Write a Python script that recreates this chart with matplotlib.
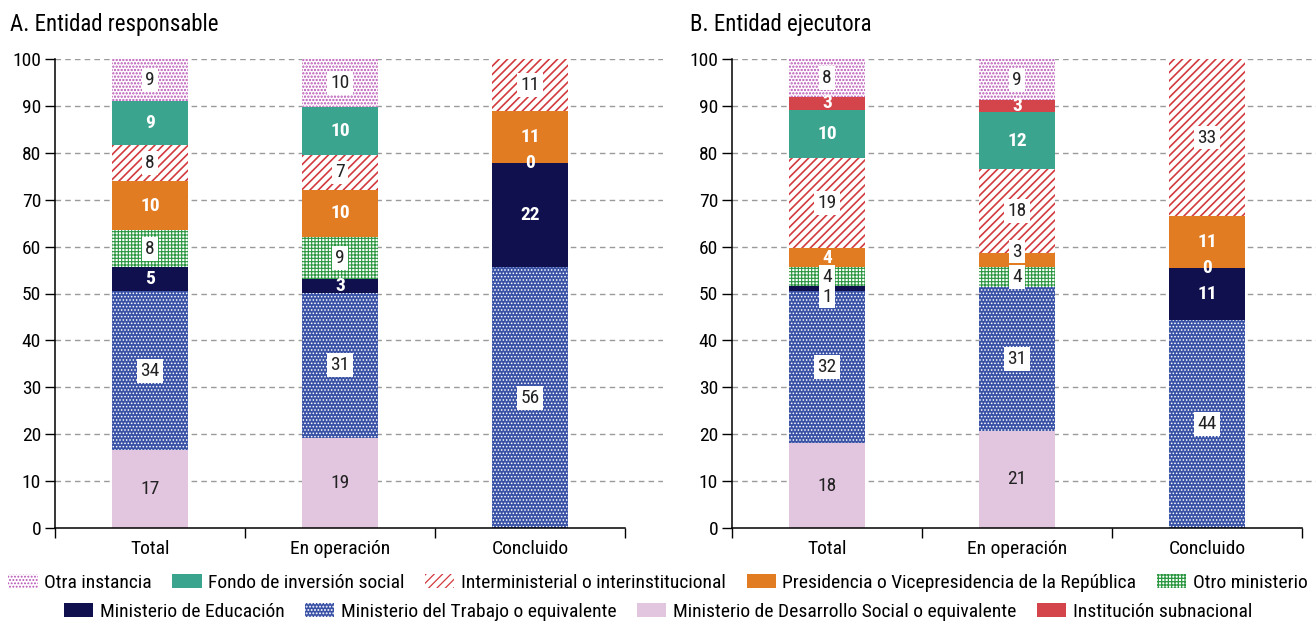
import numpy as np
import matplotlib
matplotlib.use('Agg')
from matplotlib import pyplot as plt
from matplotlib.patches import Patch

plt.rcParams['font.family'] = ['Roboto Condensed', 'Liberation Sans Narrow', 'Roboto', 'DejaVu Sans']
plt.rcParams['hatch.linewidth'] = 0.9

nan = np.nan
categories = ['Total', 'En operación', 'Concluido']

series = ['Ministerio de Desarrollo Social o equivalente', 'Ministerio del Trabajo o equivalente',
          'Ministerio de Educación', 'Otro ministerio', 'Presidencia o Vicepresidencia de la República',
          'Interministerial o interinstitucional', 'Fondo de inversión social', 'Institución subnacional',
          'Otra instancia']

# panel A: entidad responsable (stack order bottom -> top, as in series)
desarrollo_a = [16.6, 19.2, nan]
trabajo_a = [33.9, 31.0, 55.6]
educacion_a = [5.1, 2.9, 22.2]
otro_min_a = [7.9, 9.0, 0]
presidencia_a = [10.4, 10.0, 11.1]
inter_a = [7.7, 7.4, 11.1]
fondo_a = [9.4, 10.3, nan]
subnac_a = [nan, nan, nan]
otra_a = [9.0, 10.2, nan]

# panel B: entidad ejecutora
desarrollo_b = [18.1, 20.7, nan]
trabajo_b = [32.4, 30.6, 44.4]
educacion_b = [1.1, nan, 11.1]
otro_min_b = [4.0, 4.4, 0]
presidencia_b = [4.0, 2.9, 11.1]
inter_b = [19.3, 17.9, 33.3]
fondo_b = [10.3, 12.1, nan]
subnac_b = [2.7, 2.6, nan]
otra_b = [8.1, 8.8, nan]

panel_a = [desarrollo_a, trabajo_a, educacion_a, otro_min_a, presidencia_a,
           inter_a, fondo_a, subnac_a, otra_a]
panel_b = [desarrollo_b, trabajo_b, educacion_b, otro_min_b, presidencia_b,
           inter_b, fondo_b, subnac_b, otra_b]

# style per series: facecolor, hatch colour, hatch, hatch linewidth, label style
styles = {
    'Ministerio de Desarrollo Social o equivalente': ('#e2c6df', None, None, 0, 'plain'),
    'Ministerio del Trabajo o equivalente': ('#3a52a6', 'white', '.....', 0.7, 'box'),
    'Ministerio de Educación': ('#10104f', None, None, 0, 'bold'),
    'Otro ministerio': ('white', '#2a9640', '+++++', 0.8, 'box'),
    'Presidencia o Vicepresidencia de la República': ('#e27c22', None, None, 0, 'bold'),
    'Interministerial o interinstitucional': ('white', '#d23a3e', '////', 1.2, 'box'),
    'Fondo de inversión social': ('#3ba48e', None, None, 0, 'bold'),
    'Institución subnacional': ('#d4444b', None, None, 0, 'bold'),
    'Otra instancia': ('white', '#b64fb3', '.....', 1.1, 'box'),
}
# thin solid segments whose label gets a white box, with a small vertical nudge
boxed_thin = {(1, 'Ministerio de Educación', 0): -1.7,
              (1, 'Presidencia o Vicepresidencia de la República', 1): 1.8}

fig = plt.figure(figsize=(13.16, 6.24), dpi=100)
ax_a = fig.add_axes([55 / 1316, 96 / 624, 608 / 1316, 469 / 624])
ax_b = fig.add_axes([732 / 1316, 96 / 624, 608 / 1316, 469 / 624])

x = np.arange(len(categories))
fs = 14

for p, (ax, data) in enumerate([(ax_a, panel_a), (ax_b, panel_b)]):
    bottom = np.zeros(len(categories))
    for name, vals in zip(series, data):
        vals = np.array(vals, dtype=float)
        h = np.nan_to_num(vals)
        face, hcol, hatch, hlw, lstyle = styles[name]
        if hatch:
            with plt.rc_context({'hatch.linewidth': hlw}):
                ax.bar(x, h, 0.4, bottom=bottom, color=face, edgecolor=hcol, hatch=hatch,
                       linewidth=0, zorder=2)
        else:
            ax.bar(x, h, 0.4, bottom=bottom, color=face, linewidth=0, zorder=2)
        for i, v in enumerate(vals):
            if np.isnan(v):
                continue
            y = bottom[i] + h[i] / 2 + boxed_thin.get((p, name, i), 0)
            txt = f'{v:.0f}'
            if v == 0 or (lstyle == 'bold' and (p, name, i) not in boxed_thin):
                ax.text(x[i], y, txt, ha='center', va='center', color='white',
                        fontweight='bold', fontsize=fs, zorder=4)
            elif lstyle == 'plain':
                ax.text(x[i], y, txt, ha='center', va='center', color='#222222', fontsize=fs, zorder=4)
            else:
                ax.text(x[i], y, txt, ha='center', va='center', color='#222222', fontsize=fs, zorder=4,
                        bbox=dict(boxstyle='square,pad=0.15', fc='white', ec='none'))
        bottom += h

    ax.set_xlim(-0.5, 2.7)
    ax.set_ylim(0, 100)
    ax.set_yticks(np.arange(0, 101, 10))
    ax.tick_params(axis='y', direction='out', length=7, width=1, labelsize=fs, pad=3)
    ax.yaxis.grid(True, color='#9a9a9a', linestyle=(0, (4, 3)), linewidth=1, zorder=0)
    ax.yaxis.get_gridlines()[0].set_visible(False)
    ax.set_axisbelow(True)
    ax.set_xticks([-0.5, 0.5, 1.5, 2.5])
    ax.set_xticklabels([])
    ax.tick_params(axis='x', which='major', direction='out', length=7, width=1)
    ax.set_xticks(x, minor=True)
    ax.set_xticklabels(categories, minor=True)
    ax.tick_params(axis='x', which='minor', length=0, labelsize=fs, pad=9)
    for s in ['top', 'right']:
        ax.spines[s].set_visible(False)
    ax.spines['left'].set_linewidth(1.1)
    ax.spines['bottom'].set_linewidth(1.1)
    ax.spines['bottom'].set_bounds(-0.5, 2.5)

fig.text(10 / 1316, 1 - 24 / 624, 'A. Entidad responsable', fontsize=16.5, va='center', ha='left')
fig.text(690 / 1316, 1 - 24 / 624, 'B. Entidad ejecutora', fontsize=16.5, va='center', ha='left')


def handle(name):
    face, hcol, hatch, hlw, _ = styles[name]
    if hatch:
        with plt.rc_context({'hatch.linewidth': hlw}):
            return Patch(facecolor=face, edgecolor=hcol, hatch=hatch, linewidth=0, label=name)
    return Patch(facecolor=face, linewidth=0, label=name)


row1 = ['Otra instancia', 'Fondo de inversión social', 'Interministerial o interinstitucional',
        'Presidencia o Vicepresidencia de la República', 'Otro ministerio']
row2 = ['Ministerio de Educación', 'Ministerio del Trabajo o equivalente',
        'Ministerio de Desarrollo Social o equivalente', 'Institución subnacional']
for row, yy in [(row1, 1 - 583 / 624), (row2, 1 - 612 / 624)]:
    fig.legend(handles=[handle(n) for n in row], loc='center', bbox_to_anchor=(0.5, yy),
               ncol=len(row), frameon=False, fontsize=fs, handlelength=1.5, handleheight=0.75,
               handletextpad=0.35, columnspacing=1.05, borderpad=0, borderaxespad=0)

fig.savefig('out.png', dpi=100)
